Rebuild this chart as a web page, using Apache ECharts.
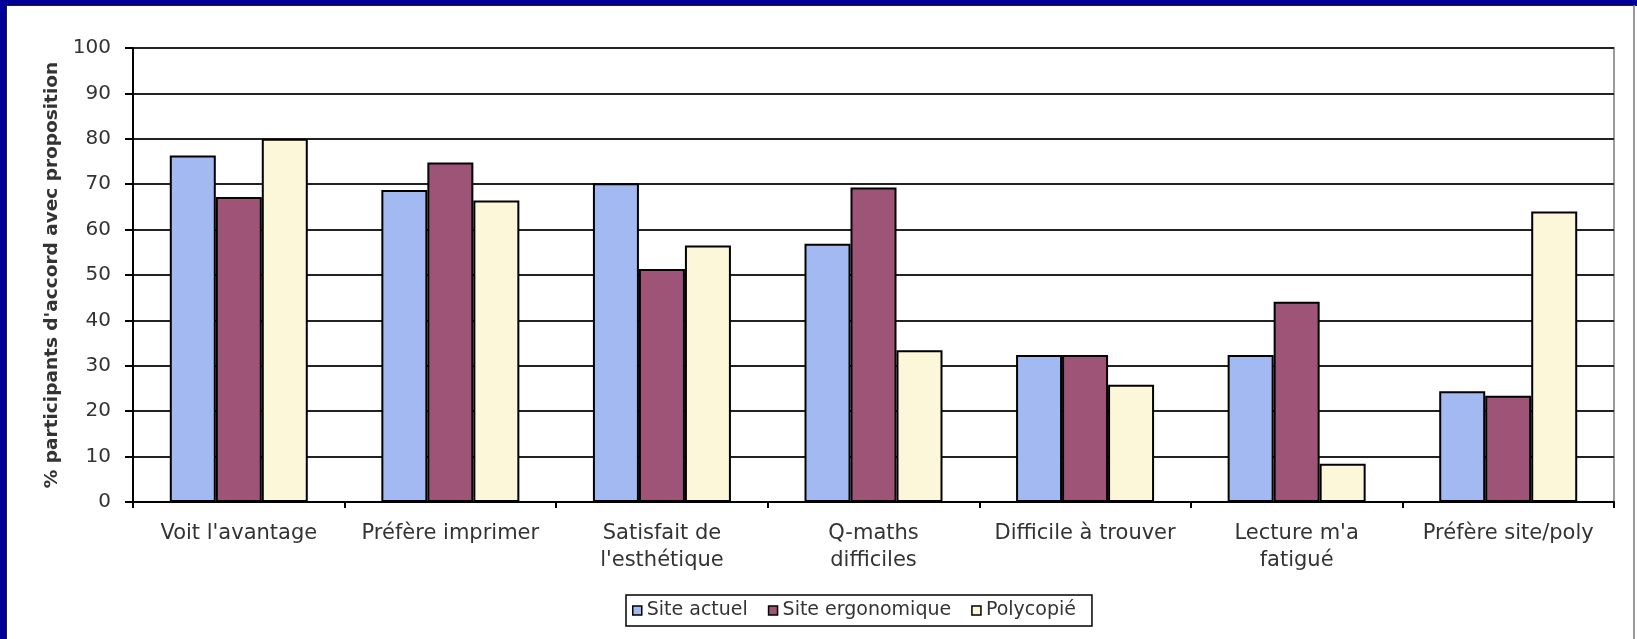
<!DOCTYPE html>
<html>
<head>
<meta charset="utf-8">
<script src="https://cdn.jsdelivr.net/npm/echarts@6/dist/echarts.min.js"></script>
<style>
  html, body { margin: 0; padding: 0; background: #fff; }
  #chart { width: 1637px; height: 639px; position: absolute; left: 0; top: 0; }
  #frame { position: absolute; left: 0; top: 0; width: 1637px; height: 639px; box-sizing: border-box;
           border-left: 7px solid #000099; border-top: 6px solid #000099; pointer-events: none; }
  #frameInner { position: absolute; left: 6px; top: 5px; width: 1629px; height: 640px; box-sizing: border-box;
           border-left: 1px solid #222; border-top: 1px solid #222; border-right: 2px solid #999; pointer-events: none; }
</style>
</head>
<body>
<div id="chart"></div>
<div id="frame"></div>
<div id="frameInner"></div>
<script>
const categories = ["Voit l'avantage", "Préfère imprimer", "Satisfait de\nl'esthétique", "Q-maths\ndifficiles", "Difficile à trouver", "Lecture m'a\nfatigué", "Préfère site/poly"];
const seriesNames = ["Site actuel", "Site ergonomique", "Polycopié"];
const siteActuel = [76.3, 68.7, 70.2, 56.9, 32.4, 32.4, 24.4];
const siteErgonomique = [67.2, 74.8, 51.3, 69.3, 32.4, 44.1, 23.4];
const polycopie = [80.0, 66.4, 56.5, 33.4, 25.8, 8.4, 64.0];
const yMin = 0, yMax = 100, yStep = 10;
const yAxisTitle = "% participants d'accord avec proposition";

const colors = ['#A2B9F2', '#9D5477', '#FDF7DA'];
const font = 'DejaVu Sans, Verdana, sans-serif';

const chart = echarts.init(document.getElementById('chart'), null, { renderer: 'canvas' });
const mk = (name, data, i) => ({
  name: name, type: 'bar', data: data, barWidth: 46, barGap: '0%',
  itemStyle: { color: colors[i], borderColor: '#000', borderWidth: 2 },
  emphasis: { disabled: true }
});
chart.setOption({
  animation: false,
  backgroundColor: '#ffffff',
  textStyle: { fontFamily: font },
  grid: { left: 133, right: 23, top: 48, bottom: 137, show: true, borderColor: '#9a9a9a', borderWidth: 2, containLabel: false },
  legend: {
    left: 626, top: 595, orient: 'horizontal',
    padding: [6, 16, 6, 6], itemGap: 20,
    itemWidth: 9, itemHeight: 9, icon: 'rect',
    borderColor: '#000', borderWidth: 1.5,
    itemStyle: { borderColor: '#000', borderWidth: 1.5 },
    textStyle: { fontFamily: font, fontSize: 19, color: '#333' },
    data: seriesNames
  },
  xAxis: {
    type: 'category', data: categories,
    axisLine: { lineStyle: { color: '#000', width: 2 } },
    axisTick: { show: true, length: 6, lineStyle: { color: '#000', width: 2 } },
    axisLabel: { interval: 0, margin: 18, fontFamily: font, fontSize: 21, color: '#333', lineHeight: 27 },
    splitLine: { show: false }
  },
  yAxis: {
    type: 'value', min: yMin, max: yMax, interval: yStep,
    name: yAxisTitle, nameLocation: 'middle', nameGap: 70, nameRotate: 90,
    nameTextStyle: { fontFamily: font, fontSize: 18.5, fontWeight: 'bold', color: '#333' },
    axisLine: { show: true, lineStyle: { color: '#000', width: 2 } },
    axisTick: { show: true, length: 8, lineStyle: { color: '#000', width: 2 } },
    axisLabel: { margin: 22, fontFamily: font, fontSize: 20, color: '#333' },
    splitLine: { show: true, lineStyle: { color: '#222', width: 2 } }
  },
  series: [
    mk(seriesNames[0], siteActuel, 0),
    mk(seriesNames[1], siteErgonomique, 1),
    mk(seriesNames[2], polycopie, 2)
  ]
});
</script>
</body>
</html>
